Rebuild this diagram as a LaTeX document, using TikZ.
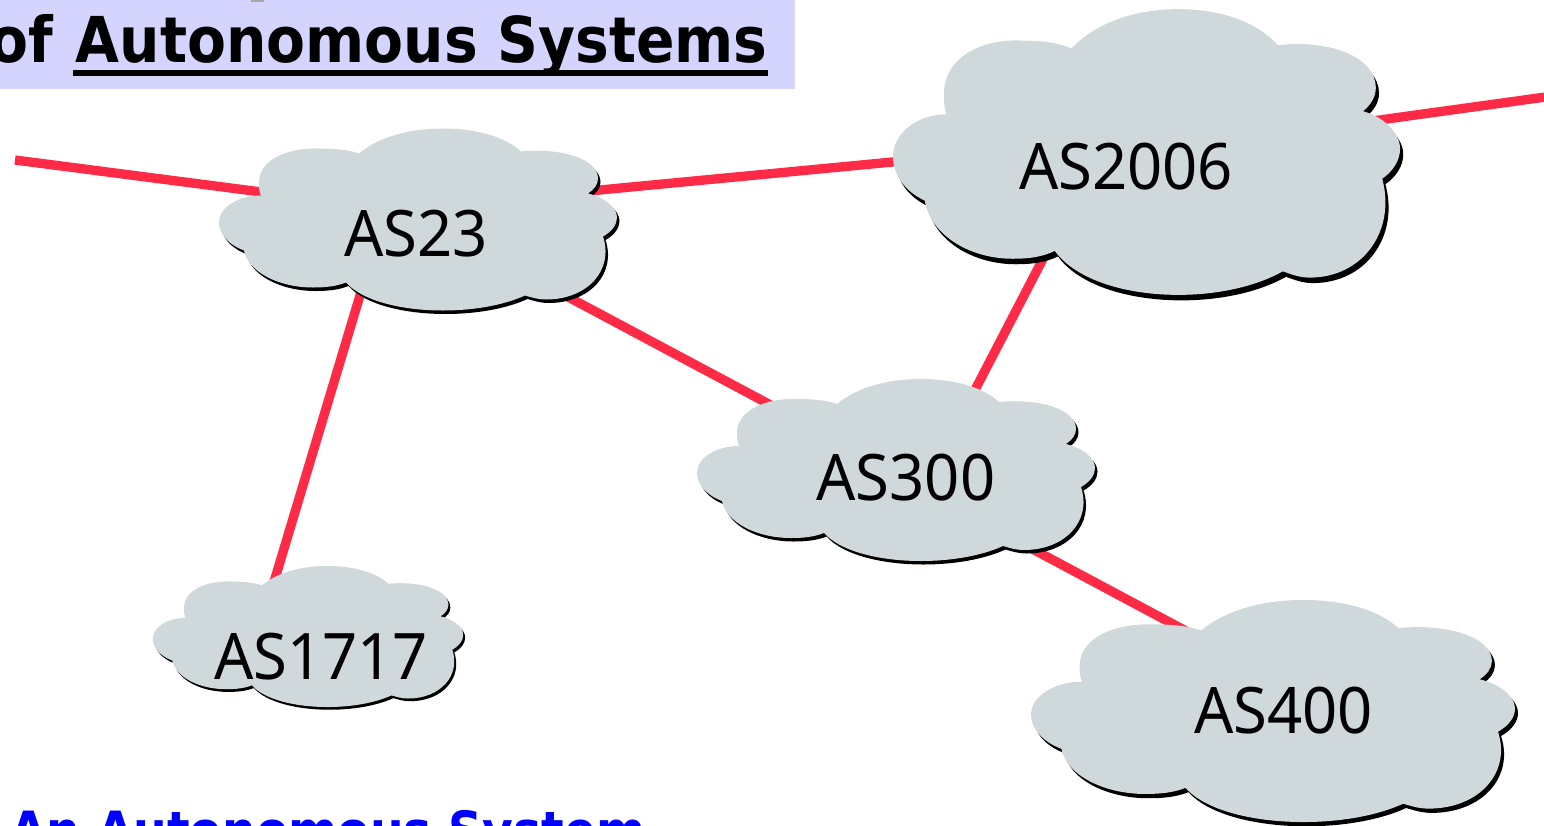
\documentclass[tikz,border=0pt]{standalone}
\usepackage{fontspec}
\usetikzlibrary{positioning}
\newfontfamily\titlefont{DejaVu Sans}[FakeStretch=0.897]
\newfontfamily\labelfont{Noto Sans}[FakeStretch=0.96]
\definecolor{linkcolor}{RGB}{255, 42, 70}
\definecolor{cloudcolor}{RGB}{207, 217, 219}
\definecolor{bannercolor}{RGB}{212, 212, 255}
\definecolor{bluecolor}{RGB}{0, 0, 255}
\newcommand{\cloudpath}{(-59,-66) .. controls (-40,-82) and (-10,-91) .. (25,-91)
  .. controls (60,-91) and (88,-82) .. (103,-68)
  .. controls (145,-72) and (180,-60) .. (180,-41)
  .. controls (180,-35) and (176,-30) .. (170,-26)
  .. controls (187,-22) and (199,-12) .. (199,-2)
  .. controls (199,5) and (194,12) .. (185,17)
  .. controls (196,50) and (170,80) .. (128,80)
  .. controls (120,80) and (114,78) .. (107,76)
  .. controls (85,86) and (55,91) .. (25,91)
  .. controls (-15,91) and (-55,82) .. (-72,63)
  .. controls (-82,67) and (-93,68) .. (-105,68)
  .. controls (-140,68) and (-170,52) .. (-174,31)
  .. controls (-190,25) and (-199,14) .. (-199,3)
  .. controls (-199,-12) and (-180,-24) .. (-157,-24)
  .. controls (-159,-28) and (-159,-33) .. (-159,-37)
  .. controls (-159,-60) and (-130,-72) .. (-99,-71)
  .. controls (-85,-71) and (-70,-70) .. (-59,-66) -- cycle}
\tikzset{
  ascloud/.pic={
    \fill[black, shift={(2.5,3.5)}] \cloudpath;
    \fill[cloudcolor] \cloudpath;
  }
}
\begin{document}
\begin{tikzpicture}[x=0.02cm, y=-0.02cm,
                link/.style={linkcolor, line width=5.3pt},
                aslabel/.style={anchor=base, inner sep=0pt, font=\labelfont\fontsize{36.5}{40}\selectfont},
                titletext/.style={inner sep=0pt, font=\titlefont\bfseries\fontsize{36}{40}\selectfont}]

                \useasboundingbox (0,0) rectangle (1544,825);
                \clip (0,0) rectangle (1544,825);

                % Banner
                \fill[bannercolor] (0,0) rectangle (795,89);
                \fill[black!35] (251,0) rectangle (264,1.5);
                \node[titletext, anchor=base east] (title) at (768,62) {Autonomous Systems};
                \node[titletext, base left=12.5pt of title] (titleof) {of};
                \draw[line width=3.4pt] (title.base west) ++(-2,11) -- (768,73);

                % Link ends
                \coordinate (leftend) at (15,160);
                \coordinate (rightend) at (1560,95);
                \coordinate (c23l) at (300,197);
                \coordinate (c23r) at (560,193.8);
                \coordinate (c23d) at (420,218);
                \coordinate (c23s) at (370,262);
                \coordinate (c2006l) at (950,156.5);
                \coordinate (c2006r) at (1300,131);
                \coordinate (c2006s) at (1073.5,200);
                \coordinate (c300u) at (900,474);
                \coordinate (c300n) at (949,440);
                \coordinate (c300s) at (950,505);
                \coordinate (c400n) at (1260,670.5);
                \coordinate (c1717n) at (262.6,620);

                % Links
                \draw[link] (leftend) -- (c23l);
                \draw[link] (c23r) -- (c2006l);
                \draw[link] (c2006r) -- (rightend);
                \draw[link] (c23d) -- (c300u);
                \draw[link] (c23s) -- (c1717n);
                \draw[link] (c2006s) -- (c300n);
                \draw[link] (c300s) -- (c400n);

                % Clouds
                \pic at (418,219.5) {ascloud};
                \pic[xscale=1.274, yscale=1.57] at (1146.5,152) {ascloud};
                \pic at (896,470) {ascloud};
                \pic[xscale=0.78, yscale=0.775] at (308,636.5) {ascloud};
                \pic[xscale=1.216, yscale=1.22] at (1273,711) {ascloud};

                % Labels
                \node[aslabel] (as23) at (416,256) {AS23};
                \node[aslabel] (as2006) at (1126,189) {AS2006};
                \node[aslabel] (as300) at (906,500) {AS300};
                \node[aslabel] (as1717) at (321,679) {AS1717};
                \node[aslabel] (as400) at (1283.5,733) {AS400};

                % Bottom line
                \node[titletext, anchor=base west, text=bluecolor, font=\titlefont\bfseries\fontsize{30}{34}\selectfont] (subtitle) at (10,849) {An Autonomous System};

\end{tikzpicture}
\end{document}
